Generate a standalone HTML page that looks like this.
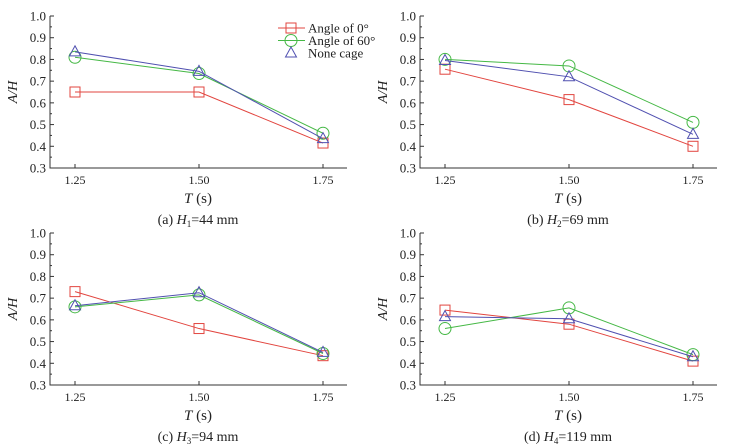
<!DOCTYPE html>
<html><head><meta charset="utf-8"><style>
body{margin:0;background:#fff}
svg{display:block;font-family:"Liberation Serif",serif}
</style></head><body>
<svg id="chart" width="729" height="444" viewBox="0 0 729 444"></svg>
<script>
const xCats=[1.25,1.50,1.75];
const xTickLabels=["1.25","1.50","1.75"];
const yTicks=[0.3,0.4,0.5,0.6,0.7,0.8,0.9,1.0];
const seriesNames=["Angle of 0°","Angle of 60°","None cage"];
const aRed=[0.65,0.65,0.415], aGreen=[0.81,0.735,0.46], aBlue=[0.835,0.745,0.435];
const bRed=[0.755,0.615,0.40], bGreen=[0.80,0.77,0.51], bBlue=[0.795,0.72,0.455];
const cRed=[0.73,0.56,0.435], cGreen=[0.66,0.715,0.445], cBlue=[0.665,0.725,0.45];
const dRed=[0.645,0.58,0.41], dGreen=[0.56,0.655,0.44], dBlue=[0.615,0.605,0.43];
const captions=[["(a) ","H","1","=44 mm"],["(b) ","H","2","=69 mm"],["(c) ","H","3","=94 mm"],["(d) ","H","4","=119 mm"]];
const panelData=[[aRed,aGreen,aBlue],[bRed,bGreen,bBlue],[cRed,cGreen,cBlue],[dRed,dGreen,dBlue]];
const colors=["#e2453f","#45b845","#5050b0"];
const NS="http://www.w3.org/2000/svg";
const svg=document.getElementById('chart');
function mk(tag,attrs,parent){const e=document.createElementNS(NS,tag);for(const k in attrs)e.setAttribute(k,attrs[k]);(parent||svg).appendChild(e);return e;}
function marker(g,kind,x,y,c){
  if(kind===0) return mk('rect',{x:x-5,y:y-5,width:10,height:10,fill:'none',stroke:c,'stroke-width':1},g);
  if(kind===1) return mk('circle',{cx:x,cy:y,r:6,fill:'none',stroke:c,'stroke-width':1},g);
  return mk('polygon',{points:`${x},${y-6} ${x-5.5},${y+4} ${x+5.5},${y+4}`,fill:'none',stroke:c,'stroke-width':1},g);
}
const origins=[[0,0],[370,0],[0,217],[370,217]];
panelData.forEach((series,p)=>{
  const [ox,oy]=origins[p];
  const g=mk('g',{});
  
  
  const L=ox+50,R=ox+347,T=oy+16,B=oy+168;
  const xs=v=>L+25+(v-1.25)/0.5*248;
  const ys=v=>B-(v-0.3)/0.7*(B-T);
  const ax=mk('path',{d:`M${L},${T} L${L},${B} L${R},${B}`,fill:'none',stroke:'#333','stroke-width':1},g);
  
  
  yTicks.forEach((t,i)=>{
    const y=ys(t);
    mk('line',{x1:L,x2:L+4,y1:y,y2:y,stroke:'#333'},g);
    if(i<yTicks.length-1){const y2=ys(t+0.05);mk('line',{x1:L,x2:L+2,y1:y2,y2:y2,stroke:'#333'},g);}
    const tx=mk('text',{x:L-4,y:y+4.5,'text-anchor':'end','font-size':13,fill:'#222'},g);
    tx.textContent=t.toFixed(1);
    
    
  });
  xCats.forEach((c,i)=>{
    const x=xs(c);
    mk('line',{x1:x,x2:x,y1:B,y2:B-4,stroke:'#333'},g);
    const tx=mk('text',{x:x,y:B+16,'text-anchor':'middle','font-size':12,fill:'#222'},g);
    tx.textContent=xTickLabels[i];
    
    
  });
  const yl=mk('text',{transform:`translate(${L-33},${(T+B)/2}) rotate(-90)`,'text-anchor':'middle','font-size':14,'font-style':'italic',fill:'#222'},g);
  yl.textContent='A/H';
  
  
  const xl=mk('text',{x:L+148,y:B+35,'text-anchor':'middle','font-size':15,fill:'#222'},g);
  xl.innerHTML='<tspan font-style="italic">T</tspan> (s)';
  
  
  const cp=captions[p];
  const ct=mk('text',{x:L+148,y:B+56,'text-anchor':'middle','font-size':14,fill:'#222'},g);
  ct.innerHTML=`${cp[0]}<tspan font-style="italic">${cp[1]}</tspan><tspan font-size="9" dy="3">${cp[2]}</tspan><tspan dy="-3">${cp[3]}</tspan>`;
  
  
  series.forEach((vals,s)=>{
    const pl=mk('polyline',{points:vals.map((v,i)=>xs(xCats[i])+','+ys(v)).join(' '),fill:'none',stroke:colors[s],'stroke-width':1},g);
    
    
    vals.forEach((v,i)=>{
      const m=marker(g,s,xs(xCats[i]),ys(v),colors[s]);
      
      
    });
  });
  if(p===0){
    const lg=mk('g',{});
    
    
    seriesNames.forEach((n,s)=>{
      const y=28+s*12.5;
      if(s<2) mk('line',{x1:278,x2:305,y1:y,y2:y,stroke:colors[s]},lg);
      const m=marker(lg,s,291,y,colors[s]);
      
      
      const t=mk('text',{x:308,y:y+4.5,'font-size':13,fill:'#222'},lg);
      t.textContent=n;
      
      
    });
  }
});
</script>
</body></html>
